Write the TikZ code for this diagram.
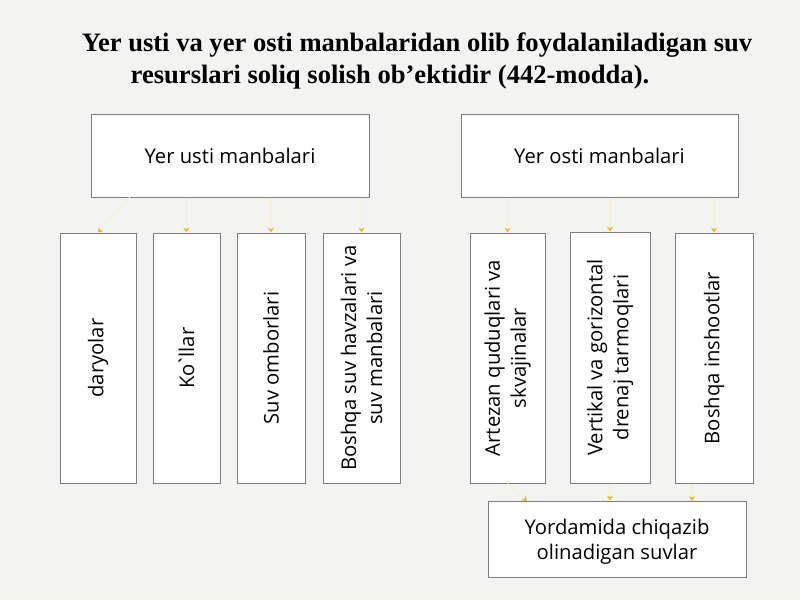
\documentclass[tikz,border=0pt]{standalone}
\usepackage{fontspec}
\setmainfont{Liberation Serif}
\newfontfamily\boxfont{Open Sans}
\usetikzlibrary{arrows.meta}
\definecolor{pagebg}{RGB}{243,243,242}
\definecolor{boxline}{RGB}{125,125,125}
\definecolor{linkline}{RGB}{247,240,212}
\definecolor{linktip}{RGB}{232,185,45}
\begin{document}
\begin{tikzpicture}[x=0.025cm,y=-0.025cm,
  box/.style={draw=boxline, fill=white, line width=0.7pt, inner sep=0pt},
  boxtext/.style={font=\boxfont\fontsize{14.4}{18.5}\selectfont, align=center, inner sep=0pt},
  link/.style={draw=linkline, line width=0.8pt, -{Stealth[length=3.5pt,width=4.5pt,color=linktip]}}]
\fill[pagebg] (0,0) rectangle (800,600);
\useasboundingbox (0,0) rectangle (800,600);
%% title
\node[font=\bfseries\fontsize{18.9}{23}\selectfont] (title1) at (417,45) {Yer usti va yer osti manbalaridan olib foydalaniladigan suv};
\node[font=\bfseries\fontsize{18.9}{23}\selectfont] (title2) at (390,77) {resurslari soliq solish ob’ektidir (442-modda).};
%% top boxes
\node[box, minimum width=278*0.025cm, minimum height=83*0.025cm] (usti) at (230,155.5) {};
\node[boxtext] at (usti) {Yer usti manbalari};
\node[box, minimum width=277*0.025cm, minimum height=83*0.025cm] (osti) at (599.5,155.5) {};
\node[boxtext] at (osti) {Yer osti manbalari};
%% left column boxes
\node[box, minimum width=76*0.025cm, minimum height=250*0.025cm] (dar) at (98,358) {};
\node[boxtext, rotate=90] at (dar) {daryolar};
\node[box, minimum width=67*0.025cm, minimum height=250*0.025cm] (kol) at (186.5,358) {};
\node[boxtext, rotate=90] at (kol) {Ko\kern-1.8pt`\kern-1.8pt llar};
\node[box, minimum width=68*0.025cm, minimum height=250*0.025cm] (omb) at (271,358) {};
\node[boxtext, rotate=90] at (omb) {Suv omborlari};
\node[box, minimum width=77*0.025cm, minimum height=250*0.025cm] (hav) at (361.5,358) {};
\node[boxtext, rotate=90] at (hav) {Boshqa suv havzalari va\\suv manbalari};
%% right column boxes
\node[box, minimum width=75*0.025cm, minimum height=250*0.025cm] (art) at (507.5,358) {};
\node[boxtext, rotate=90] at (art) {Artezan quduqlari va\\skvajinalar};
\node[box, minimum width=80*0.025cm, minimum height=251*0.025cm] (ver) at (610,357.5) {};
\node[boxtext, rotate=90] at (ver) {Vertikal va gorizontal\\drenaj tarmoqlari};
\node[box, minimum width=78*0.025cm, minimum height=250*0.025cm] (ins) at (714,358) {};
\node[boxtext, rotate=90] at (ins) {Boshqa inshootlar};
%% bottom box
\node[box, minimum width=258*0.025cm, minimum height=76*0.025cm] (yor) at (617,539) {};
\node[boxtext, font=\boxfont\fontsize{14.4}{17.5}\selectfont] at (617,542) {Yordamida chiqazib\\olinadigan suvlar};
%% connectors
\coordinate (u1) at (130,197);
\coordinate (y1) at (527,501);
\coordinate (y3) at (692,501);
\draw[link] (u1) -- (dar.north);
\draw[link] (usti.south -| kol.north) -- (kol.north);
\draw[link] (usti.south -| omb.north) -- (omb.north);
\draw[link] (usti.south -| hav.north) -- (hav.north);
\draw[link] (osti.south -| art.north) -- (art.north);
\draw[link] (osti.south -| ver.north) -- (ver.north);
\draw[link] (osti.south -| ins.north) -- (ins.north);
\draw[link] (art.south) -- (y1);
\draw[link] (ver.south) -- (yor.north -| ver.south);
\draw[link] (ins.south -| y3) -- (y3);
\end{tikzpicture}
\end{document}
